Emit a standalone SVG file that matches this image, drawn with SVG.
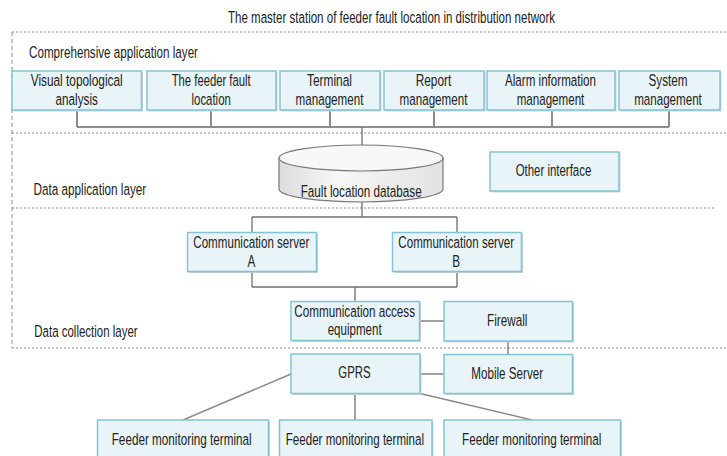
<svg xmlns="http://www.w3.org/2000/svg" width="727" height="456" viewBox="0 0 727 456">
  <defs>
    <linearGradient id="dbFill" x1="0" y1="0" x2="1" y2="0">
      <stop offset="0" stop-color="#dcdcdc"/>
      <stop offset="0.35" stop-color="#f7f7f7"/>
      <stop offset="1" stop-color="#e2e2e2"/>
    </linearGradient>
    <style>
      .bg { fill: #ffffff; }
      .dash { stroke: #8a8a8a; stroke-width: 1; stroke-dasharray: 2 2; fill: none; }
      .dashv { stroke: #8a8a8a; stroke-width: 1; stroke-dasharray: 4 3; fill: none; }
      .box { fill: #e8f4f7; stroke: #82c3d5; stroke-width: 1.5; }
      .shadow { fill: #c9d3d7; }
      .wire { stroke: #6e6e6e; stroke-width: 1.3; fill: none; }
      .bus { stroke: #8c8c8c; stroke-width: 2; fill: none; }
      .diag { stroke: #8a8a8a; stroke-width: 1.5; fill: none; }
      .db { fill: url(#dbFill); stroke: #777777; stroke-width: 1.2; }
      .dbtop { fill: #f8f8f8; stroke: #777777; stroke-width: 1.2; }
      text { font-family: "Liberation Sans", Arial, sans-serif; font-size: 16.5px; fill: #222222; }
      .c { text-anchor: middle; }
    </style>
  </defs>

  <rect class="bg" x="0" y="0" width="727" height="456"/>

  <!-- all labels use a condensed face: Liberation Sans squeezed horizontally by 0.71,
       so x positions below are in the squeezed coordinate system (x / 0.71) -->

  <!-- title and layer frame -->
  <g id="frame">
    <text class="c" transform="scale(0.71 1)" x="551.41" y="23" textLength="460.56" lengthAdjust="spacingAndGlyphs">The master station of feeder fault location in distribution network</text>
    <line class="dash" x1="12" y1="32" x2="727" y2="32"/>
    <line class="dashv" x1="12" y1="32" x2="12" y2="348"/>
    <line class="dash" x1="12" y1="133" x2="727" y2="133"/>
    <line class="dash" x1="12" y1="208" x2="716" y2="208"/>
    <line class="dash" x1="12" y1="348" x2="727" y2="348"/>
    <text transform="scale(0.71 1)" x="40.85" y="58" textLength="238.03" lengthAdjust="spacingAndGlyphs">Comprehensive application layer</text>
    <text transform="scale(0.71 1)" x="47.18" y="195" textLength="158.73" lengthAdjust="spacingAndGlyphs">Data application layer</text>
    <text transform="scale(0.71 1)" x="48.31" y="337.5" textLength="145.49" lengthAdjust="spacingAndGlyphs">Data collection layer</text>
  </g>

  <!-- connectors -->
  <g id="connectors">
    <path class="bus" d="M77 110 V127 M211 110 V127 M330 110 V127 M434 110 V127 M552 110 V127 M669 110 V127 M77 127 H669"/>
    <path class="wire" d="M362 127 V145"/>
    <path class="wire" d="M362 202 V217 M252 217 H457 M252 217 V232.5 M457 217 V232.5"/>
    <path class="wire" d="M252 271.5 V287 M457 271.5 V287 M252 287 H457 M355 287 V301.5"/>
    <path class="wire" d="M419.5 321 H444"/>
    <path class="wire" d="M508 341 V354.5"/>
    <path class="wire" d="M420 374 H444"/>
    <path class="diag" d="M291 374 L183 420"/>
    <path class="wire" d="M355 393.5 V420"/>
    <path class="diag" d="M420 393.5 L532 420"/>
  </g>

  <!-- comprehensive application layer -->
  <g id="visual-topology">
    <rect class="shadow" x="13.5" y="72.5" width="129.5" height="39"/>
    <rect class="box" x="12" y="71" width="129.5" height="39"/>
    <text class="c" transform="scale(0.71 1)" x="108.03" y="86" textLength="129.58" lengthAdjust="spacingAndGlyphs">Visual topological</text>
    <text class="c" transform="scale(0.71 1)" x="108.03" y="105" textLength="59.72" lengthAdjust="spacingAndGlyphs">analysis</text>
  </g>
  <g id="fault-location">
    <rect class="shadow" x="148.5" y="72.5" width="129" height="39"/>
    <rect class="box" x="147" y="71" width="129" height="39"/>
    <text class="c" transform="scale(0.71 1)" x="297.46" y="86" textLength="111.27" lengthAdjust="spacingAndGlyphs">The feeder fault</text>
    <text class="c" transform="scale(0.71 1)" x="297.46" y="105" textLength="55.35" lengthAdjust="spacingAndGlyphs">location</text>
  </g>
  <g id="terminal-management">
    <rect class="shadow" x="281.5" y="72.5" width="100" height="39"/>
    <rect class="box" x="280" y="71" width="100" height="39"/>
    <text class="c" transform="scale(0.71 1)" x="464.08" y="86" textLength="63.38" lengthAdjust="spacingAndGlyphs">Terminal</text>
    <text class="c" transform="scale(0.71 1)" x="464.08" y="105" textLength="95.77" lengthAdjust="spacingAndGlyphs">management</text>
  </g>
  <g id="report-management">
    <rect class="shadow" x="385.5" y="72.5" width="100" height="39"/>
    <rect class="box" x="384" y="71" width="100" height="39"/>
    <text class="c" transform="scale(0.71 1)" x="610.56" y="86" textLength="50.14" lengthAdjust="spacingAndGlyphs">Report</text>
    <text class="c" transform="scale(0.71 1)" x="610.56" y="105" textLength="95.77" lengthAdjust="spacingAndGlyphs">management</text>
  </g>
  <g id="alarm-management">
    <rect class="shadow" x="488.5" y="72.5" width="128" height="39"/>
    <rect class="box" x="487" y="71" width="128" height="39"/>
    <text class="c" transform="scale(0.71 1)" x="775.35" y="86" textLength="128.17" lengthAdjust="spacingAndGlyphs">Alarm information</text>
    <text class="c" transform="scale(0.71 1)" x="775.35" y="105" textLength="95.35" lengthAdjust="spacingAndGlyphs">management</text>
  </g>
  <g id="system-management">
    <rect class="shadow" x="620.5" y="72.5" width="101" height="39"/>
    <rect class="box" x="619" y="71" width="101" height="39"/>
    <text class="c" transform="scale(0.71 1)" x="940.85" y="86" textLength="54.93" lengthAdjust="spacingAndGlyphs">System</text>
    <text class="c" transform="scale(0.71 1)" x="940.85" y="105" textLength="95.35" lengthAdjust="spacingAndGlyphs">management</text>
  </g>

  <!-- data application layer -->
  <g id="fault-database">
    <path class="db" d="M279 158 V189 A82 13 0 0 0 443 189 V158 Z"/>
    <ellipse class="dbtop" cx="361" cy="158" rx="82" ry="13"/>
    <text class="c" transform="scale(0.71 1)" x="508.73" y="197" textLength="170.42" lengthAdjust="spacingAndGlyphs">Fault location database</text>
  </g>
  <g id="other-interface">
    <rect class="shadow" x="491.5" y="153.5" width="129" height="39"/>
    <rect class="box" x="490" y="152" width="129" height="39"/>
    <text class="c" transform="scale(0.71 1)" x="779.58" y="176" textLength="106.48" lengthAdjust="spacingAndGlyphs">Other interface</text>
  </g>

  <!-- data collection layer -->
  <g id="comm-server-a">
    <rect class="shadow" x="189" y="234" width="129" height="39"/>
    <rect class="box" x="187.5" y="232.5" width="129" height="39"/>
    <text class="c" transform="scale(0.71 1)" x="353.94" y="248" textLength="163.38" lengthAdjust="spacingAndGlyphs">Communication server</text>
    <text class="c" transform="scale(0.71 1)" x="353.94" y="267">A</text>
  </g>
  <g id="comm-server-b">
    <rect class="shadow" x="394" y="234" width="129" height="39"/>
    <rect class="box" x="392.5" y="232.5" width="129" height="39"/>
    <text class="c" transform="scale(0.71 1)" x="642.54" y="248" textLength="162.96" lengthAdjust="spacingAndGlyphs">Communication server</text>
    <text class="c" transform="scale(0.71 1)" x="642.54" y="267">B</text>
  </g>
  <g id="comm-access">
    <rect class="shadow" x="292.5" y="303" width="128.5" height="39"/>
    <rect class="box" x="291" y="301.5" width="128.5" height="39"/>
    <text class="c" transform="scale(0.71 1)" x="499.58" y="317" textLength="170" lengthAdjust="spacingAndGlyphs">Communication access</text>
    <text class="c" transform="scale(0.71 1)" x="499.58" y="335" textLength="76.06" lengthAdjust="spacingAndGlyphs">equipment</text>
  </g>
  <g id="firewall">
    <rect class="shadow" x="445.5" y="303" width="128.5" height="39.5"/>
    <rect class="box" x="444" y="301.5" width="128.5" height="39.5"/>
    <text class="c" transform="scale(0.71 1)" x="714.37" y="326" textLength="56.76" lengthAdjust="spacingAndGlyphs">Firewall</text>
  </g>

  <!-- field side -->
  <g id="gprs">
    <rect class="shadow" x="292.5" y="355.5" width="129" height="39.5"/>
    <rect class="box" x="291" y="354" width="129" height="39.5"/>
    <text class="c" transform="scale(0.71 1)" x="499.3" y="378" textLength="45.49" lengthAdjust="spacingAndGlyphs">GPRS</text>
  </g>
  <g id="mobile-server">
    <rect class="shadow" x="445.5" y="356" width="128.5" height="39"/>
    <rect class="box" x="444" y="354.5" width="128.5" height="39"/>
    <text class="c" transform="scale(0.71 1)" x="714.37" y="379" textLength="100.99" lengthAdjust="spacingAndGlyphs">Mobile Server</text>
  </g>
  <g id="feeder-terminal-1">
    <rect class="shadow" x="99" y="421.5" width="171" height="45"/>
    <rect class="box" x="97.5" y="420" width="171" height="45"/>
    <text class="c" transform="scale(0.71 1)" x="255.92" y="445" textLength="197.18" lengthAdjust="spacingAndGlyphs">Feeder monitoring terminal</text>
  </g>
  <g id="feeder-terminal-2">
    <rect class="shadow" x="281" y="421.5" width="152.5" height="45"/>
    <rect class="box" x="279.5" y="420" width="152.5" height="45"/>
    <text class="c" transform="scale(0.71 1)" x="499.86" y="445" textLength="194.79" lengthAdjust="spacingAndGlyphs">Feeder monitoring terminal</text>
  </g>
  <g id="feeder-terminal-3">
    <rect class="shadow" x="445.5" y="421.5" width="176.5" height="45"/>
    <rect class="box" x="444" y="420" width="176.5" height="45"/>
    <text class="c" transform="scale(0.71 1)" x="748.87" y="445" textLength="196.2" lengthAdjust="spacingAndGlyphs">Feeder monitoring terminal</text>
  </g>
</svg>
